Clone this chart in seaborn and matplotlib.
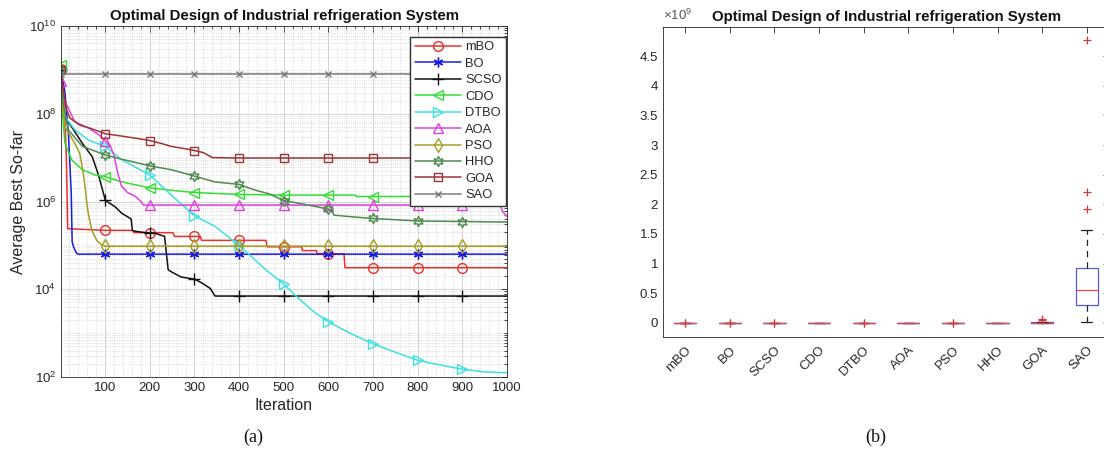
import numpy as np
import pandas as pd
import matplotlib
matplotlib.use("Agg")
import matplotlib.pyplot as plt
from matplotlib.lines import Line2D
from matplotlib.ticker import (LogLocator, MultipleLocator, FuncFormatter,
                               NullFormatter, FixedLocator)
import seaborn as sns

# ---------------------------------------------------------------- data
algorithms = ["mBO", "BO", "SCSO", "CDO", "DTBO", "AOA", "PSO", "HHO", "GOA", "SAO"]
marker_iters = [1, 100, 200, 300, 400, 500, 600, 700, 800, 900]

# convergence curves: (iteration, average best so-far) breakpoints
mbo_iter = [1, 8, 13, 16, 100, 160, 165, 200, 252, 255, 300, 313, 316, 400, 460, 463, 500, 540, 542, 573, 575, 600, 635, 637, 700, 800, 900, 1000]
mbo_val = [1.05e9, 2e8, 1e7, 2.4e5, 2.2e5, 2.2e5, 1.95e5, 1.95e5, 1.95e5, 1.6e5, 1.6e5, 1.6e5, 1.3e5, 1.3e5, 1.3e5, 9.3e4, 9.3e4, 9.3e4, 7.6e4, 7.6e4, 6.5e4, 6.4e4, 6.4e4, 3.1e4, 3.1e4, 3.1e4, 3.1e4, 3.1e4]

bo_iter = [1, 10, 18, 24, 26, 29, 32, 36, 40, 100, 200, 300, 400, 500, 600, 700, 800, 900, 1000]
bo_val = [1.0e9, 3e8, 3e7, 1.5e6, 1.2e5, 9.3e4, 7.9e4, 6.6e4, 6.3e4, 6.3e4, 6.3e4, 6.3e4, 6.3e4, 6.3e4, 6.3e4, 6.3e4, 6.3e4, 6.3e4, 6.3e4]

scso_iter = [1, 5, 9, 25, 49, 71, 85, 93, 100, 104, 122, 137, 150, 158, 161, 167, 182, 200, 211, 233, 241, 248, 270, 300, 316, 335, 346, 400, 500, 600, 700, 800, 900, 1000]
scso_val = [1.0e9, 1.5e8, 8.5e7, 5e7, 2.1e7, 1.05e7, 4e6, 2e6, 1.1e6, 1.0e6, 7.6e5, 5.4e5, 4.5e5, 4e5, 2.2e5, 2.1e5, 2.0e5, 1.9e5, 1.9e5, 1.6e5, 2.8e4, 2.5e4, 1.9e4, 1.7e4, 1.4e4, 1.05e4, 7e3, 7e3, 7e3, 7e3, 7e3, 7e3, 7e3, 7e3]

cdo_iter = [1, 4, 10, 25, 49, 78, 100, 137, 200, 248, 300, 400, 500, 600, 660, 663, 700, 800, 900, 1000]
cdo_val = [1.3e9, 1e8, 2.1e7, 8.9e6, 5.3e6, 4e6, 3.7e6, 2.8e6, 2.05e6, 1.8e6, 1.6e6, 1.45e6, 1.4e6, 1.4e6, 1.4e6, 1.3e6, 1.3e6, 1.3e6, 1.3e6, 1.3e6]

dtbo_iter = [1, 5, 10, 32, 63, 100, 137, 200, 248, 300, 346, 400, 453, 500, 537, 567, 600, 648, 700, 752, 800, 848, 900, 952, 1000]
dtbo_val = [1.0e9, 2e8, 8.5e7, 4.3e7, 2.5e7, 1.8e7, 9e6, 4e6, 1.4e6, 4.7e5, 2.7e5, 1.0e5, 3.2e4, 1.3e4, 5.7e3, 3.1e3, 1.8e3, 1.0e3, 5.7e2, 3.6e2, 2.4e2, 1.9e2, 1.5e2, 1.3e2, 1.25e2]

aoa_iter = [1, 10, 32, 63, 86, 100, 112, 120, 128, 136, 150, 168, 180, 186, 200, 300, 400, 500, 600, 700, 800, 900, 985, 990, 1000]
aoa_val = [5.5e8, 1.9e8, 6.6e7, 4.7e7, 3.3e7, 2.4e7, 1.8e7, 1.1e7, 4.5e6, 2.3e6, 1.6e6, 1.3e6, 1.0e6, 8.3e5, 8.3e5, 8.3e5, 8.3e5, 8.3e5, 8.3e5, 8.3e5, 8.3e5, 8.3e5, 8.3e5, 6e5, 4.5e5]

pso_iter = [1, 5, 10, 32, 43, 50, 55, 58, 62, 70, 81, 92, 100, 200, 300, 400, 500, 600, 700, 800, 900, 1000]
pso_val = [1.0e9, 1.5e8, 5e7, 2.1e7, 1.25e7, 5e6, 2.2e6, 1.07e6, 5.4e5, 2.2e5, 1.3e5, 1.03e5, 9.6e4, 9.6e4, 9.6e4, 9.6e4, 9.6e4, 9.6e4, 9.6e4, 9.6e4, 9.6e4, 9.6e4]

hho_iter = [1, 5, 17, 49, 78, 100, 137, 200, 248, 300, 345, 400, 437, 467, 500, 550, 600, 608, 612, 650, 700, 800, 900, 1000]
hho_val = [1.0e9, 2e8, 4.3e7, 1.8e7, 1.4e7, 1.15e7, 9.2e6, 6.5e6, 5.3e6, 3.8e6, 2.8e6, 2.45e6, 1.8e6, 1.5e6, 1.05e6, 8.5e5, 6.7e5, 6.5e5, 4.9e5, 4.5e5, 4.1e5, 3.6e5, 3.5e5, 3.4e5]

goa_iter = [1, 5, 10, 14, 21, 43, 63, 88, 100, 137, 175, 200, 226, 248, 286, 300, 320, 340, 400, 500, 600, 700, 800, 900, 1000]
goa_val = [1.0e9, 4e8, 2e8, 1.2e8, 8e7, 5.5e7, 4.8e7, 3.9e7, 3.5e7, 3.1e7, 2.7e7, 2.45e7, 2.1e7, 1.8e7, 1.55e7, 1.45e7, 1.3e7, 1.0e7, 9.8e6, 9.8e6, 9.8e6, 9.8e6, 9.8e6, 9.8e6, 9.8e6]

sao_iter = [1, 100, 200, 300, 400, 500, 600, 700, 800, 900, 1000]
sao_val = [8.1e8, 8.1e8, 8.1e8, 8.1e8, 8.1e8, 8.1e8, 8.1e8, 8.1e8, 8.1e8, 8.1e8, 8.1e8]

# final best values of the independent runs
mbo_runs = [1.2e4, 1.5e4, 1.6e4, 1.8e4, 2.0e4, 2.1e4, 2.2e4, 2.3e4, 2.4e4, 2.5e4, 2.6e4, 2.8e4, 3.0e4, 3.1e4, 3.3e4, 3.5e4, 3.8e4, 4.2e4, 9.5e4, 1.6e5]
bo_runs = [4.1e4, 4.5e4, 4.8e4, 5.0e4, 5.2e4, 5.4e4, 5.5e4, 5.7e4, 5.8e4, 6.0e4, 6.1e4, 6.2e4, 6.4e4, 6.6e4, 6.8e4, 7.0e4, 7.3e4, 7.6e4, 1.3e5, 1.9e5]
scso_runs = [3.1e3, 3.5e3, 3.9e3, 4.2e3, 4.5e3, 4.8e3, 5.0e3, 5.3e3, 5.5e3, 5.8e3, 6.0e3, 6.2e3, 6.5e3, 6.8e3, 7.1e3, 7.4e3, 7.8e3, 8.3e3, 2.1e4, 3.0e4]
cdo_runs = [9.1e5, 9.8e5, 1.03e6, 1.08e6, 1.12e6, 1.16e6, 1.2e6, 1.24e6, 1.27e6, 1.3e6, 1.33e6, 1.36e6, 1.4e6, 1.44e6, 1.48e6, 1.52e6, 1.57e6, 1.62e6, 1.68e6, 1.75e6]
dtbo_runs = [62.0, 70.0, 76.0, 81.0, 86.0, 90.0, 94.0, 98.0, 102.0, 106.0, 110.0, 114.0, 118.0, 123.0, 128.0, 134.0, 140.0, 148.0, 290.0, 410.0]
aoa_runs = [2.4e5, 2.7e5, 3.0e5, 3.2e5, 3.5e5, 3.8e5, 4.0e5, 4.2e5, 4.4e5, 4.6e5, 4.8e5, 5.0e5, 5.3e5, 5.6e5, 5.9e5, 6.2e5, 6.6e5, 7.0e5, 7.5e5, 8.1e5]
pso_runs = [6.3e4, 6.8e4, 7.2e4, 7.5e4, 7.8e4, 8.1e4, 8.3e4, 8.6e4, 8.8e4, 9.0e4, 9.3e4, 9.5e4, 9.8e4, 1.01e5, 1.04e5, 1.08e5, 1.12e5, 1.17e5, 2.2e5, 3.1e5]
hho_runs = [1.8e5, 2.0e5, 2.2e5, 2.4e5, 2.6e5, 2.7e5, 2.9e5, 3.0e5, 3.2e5, 3.3e5, 3.5e5, 3.6e5, 3.8e5, 3.9e5, 4.1e5, 4.3e5, 4.5e5, 4.7e5, 5.0e5, 5.3e5]
goa_runs = [1.5e6, 2.2e6, 2.9e6, 3.4e6, 4.0e6, 4.6e6, 5.1e6, 5.7e6, 6.3e6, 6.9e6, 7.6e6, 8.3e6, 9.1e6, 1.0e7, 1.12e7, 1.25e7, 1.38e7, 1.52e7, 4.5e7, 7.2e7]
sao_runs = [0.02e9, 0.10e9, 0.18e9, 0.25e9, 0.29e9, 0.30e9, 0.36e9, 0.42e9, 0.48e9, 0.54e9, 0.56e9, 0.63e9, 0.72e9, 0.84e9, 0.92e9, 0.96e9, 1.56e9, 1.92e9, 2.21e9, 4.77e9]

# ---------------------------------------------------------------- styles
series = [
    ("mBO", mbo_iter, mbo_val, "#e8302c", "o", 7),
    ("BO", bo_iter, bo_val, "#1a1ae6", (6, 2, 0), 7),
    ("SCSO", scso_iter, scso_val, "#111111", "+", 8),
    ("CDO", cdo_iter, cdo_val, "#33dd33", "<", 7),
    ("DTBO", dtbo_iter, dtbo_val, "#3ce0e0", ">", 7),
    ("AOA", aoa_iter, aoa_val, "#e040e0", "^", 7),
    ("PSO", pso_iter, pso_val, "#a39d22", "d", 7),
    ("HHO", hho_iter, hho_val, "#4e8a4e", (6, 1, 0), 7.5),
    ("GOA", goa_iter, goa_val, "#9c3434", "s", 6),
    ("SAO", sao_iter, sao_val, "#7a7a7a", "x", 5),
]
runs = [mbo_runs, bo_runs, scso_runs, cdo_runs, dtbo_runs, aoa_runs, pso_runs, hho_runs, goa_runs, sao_runs]

sns.set_style("white")
plt.rcParams["font.family"] = ["Liberation Sans", "DejaVu Sans"]
plt.rcParams["mathtext.fontset"] = "custom"
plt.rcParams["mathtext.rm"] = "Liberation Sans"
plt.rcParams["mathtext.it"] = "Liberation Sans"
TXT = "#262626"
TICK_FS = 9.5
LABEL_FS = 11.5
TITLE_FS = 10.8

fig = plt.figure(figsize=(11.04, 4.57), dpi=100)
ax1 = fig.add_axes([61 / 1104, 80 / 457, 446 / 1104, 351 / 457])
ax2 = fig.add_axes([663 / 1104, 120 / 457, 446 / 1104, 310 / 457])

# ---------------------------------------------------------------- (a) convergence
ax1.set_yscale("log")
handles = []
for name, it, val, col, mk, ms in series:
    df = pd.DataFrame({"Iteration": it, "Value": val})
    idx = [it.index(m) for m in marker_iters]
    sns.lineplot(data=df, x="Iteration", y="Value", ax=ax1, estimator=None, sort=False,
                 color=col, lw=1.1, marker=mk, markevery=idx, markersize=ms,
                 markerfacecolor="none", markeredgecolor=col, markeredgewidth=1.0,
                 legend=False)
    handles.append(Line2D([], [], color=col, lw=1.1, marker=mk, markersize=ms,
                          markerfacecolor="none", markeredgecolor=col, markeredgewidth=1.0,
                          label=name))

ax1.set_xlim(1, 1000)
ax1.set_ylim(1e2, 1e10)
ax1.xaxis.set_major_locator(FixedLocator([100, 200, 300, 400, 500, 600, 700, 800, 900, 1000]))
ax1.xaxis.set_minor_locator(MultipleLocator(20))
ax1.yaxis.set_major_locator(FixedLocator([1e2, 1e4, 1e6, 1e8, 1e10]))
ax1.yaxis.set_minor_locator(LogLocator(base=10, subs=np.arange(1, 10), numticks=30))
ax1.yaxis.set_minor_formatter(NullFormatter())
ax1.grid(True, which="major", color="#d4d4d4", lw=0.7, ls="-")
ax1.grid(True, which="minor", color="#cfcfcf", lw=0.6, ls=":")
ax1.set_axisbelow(True)
ax1.set_xlabel("Iteration", fontsize=LABEL_FS, color=TXT, labelpad=3)
ax1.set_ylabel("Average Best So-far", fontsize=LABEL_FS, color=TXT, labelpad=2)
ax1.set_title("Optimal Design of Industrial refrigeration System", fontsize=TITLE_FS,
              fontweight="bold", color="#111111", pad=4)
ax1.legend(handles=handles, loc="upper right", bbox_to_anchor=(0.998, 0.969),
           borderaxespad=0, fontsize=9.3, handlelength=3.6, handletextpad=0.3,
           labelspacing=0.34, frameon=True, fancybox=False, edgecolor="#333333",
           framealpha=1, borderpad=0.35)

# ---------------------------------------------------------------- (b) boxplot
box_df = pd.DataFrame({
    "Algorithm": np.repeat(algorithms, [len(r) for r in runs]),
    "Value": np.concatenate([np.asarray(r, dtype=float) for r in runs]),
})
sns.boxplot(data=box_df, x="Algorithm", y="Value", order=algorithms, ax=ax2,
            width=0.5, fill=False, whis=1.5, linewidth=0.9,
            boxprops=dict(color="#5a5ad8"),
            medianprops=dict(color="#e04848"),
            whiskerprops=dict(color="#222222", linestyle=(0, (5, 4))),
            capprops=dict(color="#222222"),
            flierprops=dict(marker="+", markeredgecolor="#d03838", markersize=6,
                            markeredgewidth=0.9))
ax2.set_xlim(-0.5, 9.5)
ax2.set_ylim(-0.237e9, 4.99e9)
ax2.yaxis.set_major_locator(MultipleLocator(0.5e9))
ax2.yaxis.set_major_formatter(FuncFormatter(lambda v, p: f"{v / 1e9:g}"))
ax2.text(0.0, 1.012, r"$\times10^{9}$", transform=ax2.transAxes, ha="left", va="bottom",
         fontsize=TICK_FS, color="#555555")
ax2.set_xlabel("")
ax2.set_ylabel("")
ax2.set_title("Optimal Design of Industrial refrigeration System", fontsize=TITLE_FS,
              fontweight="bold", color="#111111", pad=4)
for lab in ax2.get_xticklabels():
    lab.set_rotation(45)
    lab.set_ha("right")
    lab.set_va("top")
    lab.set_rotation_mode("anchor")

# ---------------------------------------------------------------- axes frames
for ax in (ax1, ax2):
    for s in ax.spines.values():
        s.set_visible(True)
        s.set_color(TXT)
        s.set_linewidth(0.6)
    ax.tick_params(which="both", direction="in", top=True, right=True,
                   color=TXT, labelcolor=TXT, labelsize=TICK_FS, width=0.6)
    ax.tick_params(which="major", length=4)
    ax.tick_params(which="minor", length=2)
ax2.tick_params(axis="x", which="minor", top=False, bottom=False)
ax2.tick_params(axis="x", pad=5)

fig.text(253 / 1104, 1 - 437 / 457, "(a)", fontsize=13, family="Liberation Serif",
         ha="center", va="center", color="#111111")
fig.text(876 / 1104, 1 - 437 / 457, "(b)", fontsize=13, family="Liberation Serif",
         ha="center", va="center", color="#111111")

fig.savefig("out.png", dpi=100, facecolor="white")
